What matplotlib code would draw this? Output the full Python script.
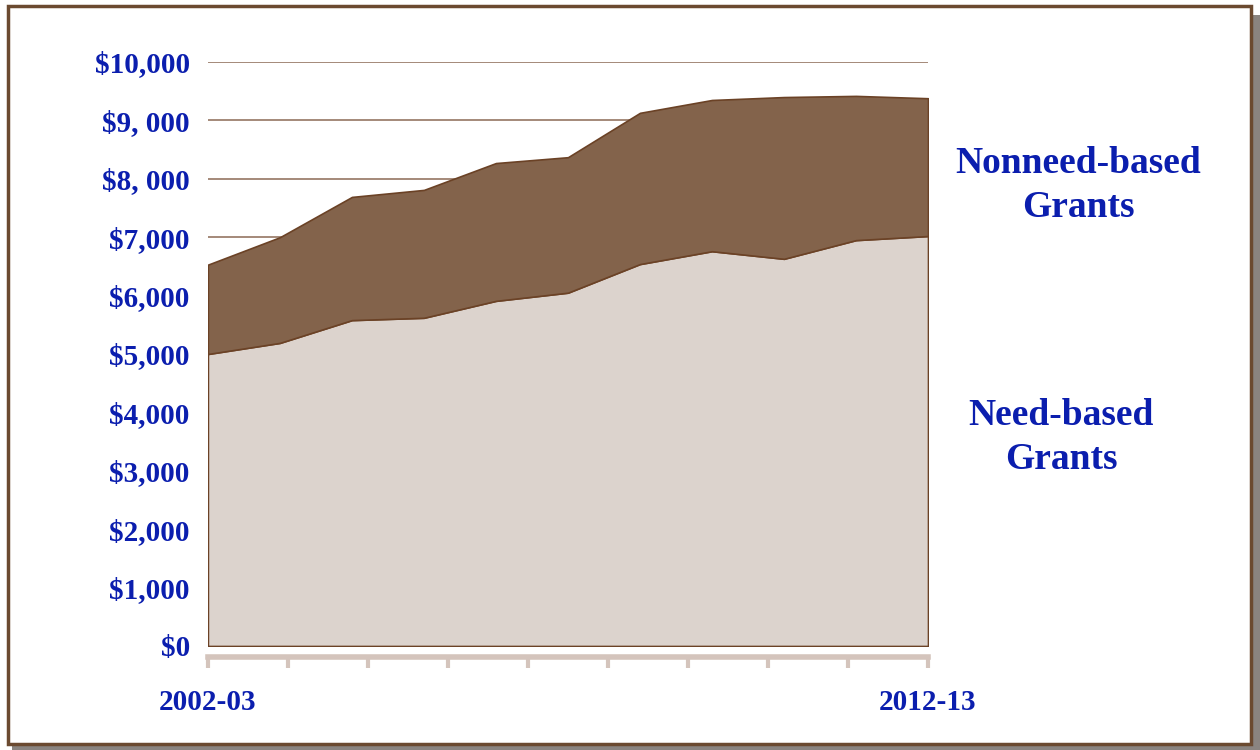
import numpy as np
import matplotlib
matplotlib.use("Agg")
import matplotlib.pyplot as plt
from matplotlib.patches import Rectangle

# Dados (dólares por estudante)
anos = ['2002-03', '2003-04', '2004-05', '2005-06', '2006-07', '2007-08',
        '2008-09', '2009-10', '2010-11', '2011-12', '2012-13']
need_based = [5000, 5190, 5580, 5620, 5910, 6050, 6540, 6760, 6630, 6950, 7020]
nonneed_based = [1530, 1810, 2110, 2190, 2360, 2320, 2590, 2590, 2770, 2470, 2360]
y_ticks = [0, 1000, 2000, 3000, 4000, 5000, 6000, 7000, 8000, 9000, 10000]
y_labels = ['$0', '$1,000', '$2,000', '$3,000', '$4,000', '$5,000',
            '$6,000', '$7,000', '$8, 000', '$9, 000', '$10,000']

azul = '#0b1eae'
fonte = 'Liberation Serif'

fig = plt.figure(figsize=(12.6, 7.5), dpi=100)
ax = fig.add_axes([0.165, 0.1387, 0.5715, 0.7786])

# spines primeiro (set_position reinicia os ticks)
for lado in ['top', 'right', 'left']:
    ax.spines[lado].set_visible(False)
ax.spines['bottom'].set_position(('outward', 8))
ax.spines['bottom'].set_color('#d4c4bc')
ax.spines['bottom'].set_linewidth(4)

x = np.arange(len(anos))
ax.stackplot(x, need_based, nonneed_based,
             colors=['#dcd3cd', '#83634b'],
             edgecolor='#6b4226', linewidth=1.2, zorder=2)

ax.set_xlim(0, len(anos) - 1)
ax.set_ylim(0, 10000)

# grade horizontal
ax.set_yticks(y_ticks)
ax.set_yticklabels(y_labels, fontsize=21, fontweight='bold', color=azul, family=fonte)
ax.yaxis.grid(True, color='#8b6a55', linewidth=1.1, zorder=0)
ax.set_axisbelow(True)
ax.tick_params(axis='y', length=0, pad=13)

# eixo x com marcas claras
ticks_x = np.linspace(0, len(anos) - 1, 10)
ax.set_xticks(ticks_x)
rotulos = [''] * len(ticks_x)
rotulos[0] = anos[0]
rotulos[-1] = anos[-1]
ax.set_xticklabels(rotulos, fontsize=21, fontweight='bold', color=azul, family=fonte)
ax.tick_params(axis='x', length=8, width=3, color='#d4c4bc', direction='out', pad=15)

# rótulos das séries
fig.text(0.856, 0.753, 'Nonneed-based\nGrants', ha='center', va='center',
         fontsize=27, fontweight='bold', color=azul, family=fonte, linespacing=1.32)
fig.text(0.842, 0.417, 'Need-based\nGrants', ha='center', va='center',
         fontsize=27, fontweight='bold', color=azul, family=fonte, linespacing=1.32)

# moldura com sombra
fig.patches.append(Rectangle((0.0095, 0.0), 0.9905, 0.98, transform=fig.transFigure,
                             facecolor='#8a8480', edgecolor='none', zorder=-2))
fig.patches.append(Rectangle((0.006, 0.008), 0.987, 0.984, transform=fig.transFigure,
                             facecolor='white', edgecolor='#6b4a30', linewidth=2.5, zorder=-1))

fig.savefig('out.png', dpi=100)
